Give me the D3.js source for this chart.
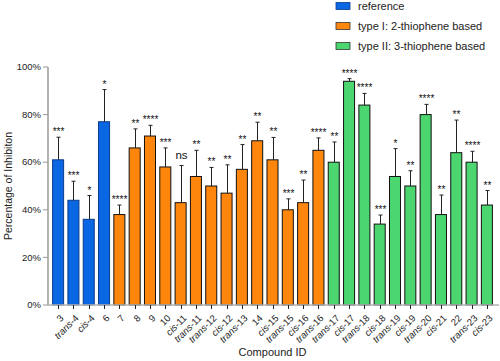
<!DOCTYPE html>
<html>
<head>
<meta charset="utf-8">
<script src="https://cdn.jsdelivr.net/npm/d3@7"></script>
<style>
  body { margin: 0; background: #fff; }
  svg { font-family: "Liberation Sans", Arial, sans-serif; display: block; }
</style>
</head>
<body>
<svg id="chart" width="500" height="361"></svg>
<script>
// compound ids, split into prefix (italic) and number
const compounds = ["3", "trans-4", "cis-4", "6", "7", "8", "9", "10", "cis-11", "trans-11",
  "trans-12", "cis-12", "trans-13", "14", "cis-15", "trans-15", "cis-16", "trans-16",
  "trans-17", "cis-17", "trans-18", "cis-18", "trans-19", "cis-19", "trans-20", "cis-21",
  "22", "trans-23", "cis-23"];
const groups = ["ref", "ref", "ref", "ref",
  "t1", "t1", "t1", "t1", "t1", "t1", "t1", "t1", "t1", "t1", "t1", "t1", "t1", "t1",
  "t2", "t2", "t2", "t2", "t2", "t2", "t2", "t2", "t2", "t2", "t2"];
const inhibition = [61, 44, 36, 77, 38, 66, 71, 58, 43, 54, 50, 47, 57, 69, 61, 40, 43, 65,
  60, 94, 84, 34, 54, 50, 80, 38, 64, 60, 42];
const errorTop = [70.5, 52, 46, 90.5, 42, 74, 75.5, 66, 58.6, 65, 57.8, 58.9, 67.4, 76.8, 70.4, 44.6, 52.5, 70.2,
  68.5, 95.1, 88.9, 37.8, 65.7, 56.4, 84.3, 46.2, 77.7, 64.6, 48.1];
const significance = ["***", "***", "*", "*", "****", "**", "****", "***", "ns", "**",
  "**", "**", "**", "**", "**", "***", "**", "****",
  "**", "****", "****", "***", "*", "**", "****", "**", "**", "****", "**"];
const yTicks = [0, 20, 40, 60, 80, 100];
const legendKeys = ["ref", "t1", "t2"];
const legendLabels = ["reference", "type I: 2-thiophene based", "type II: 3-thiophene based"];

const colors = { ref: "#0a67e3", t1: "#ff860d", t2: "#4cd670" };

const data = compounds.map((c, i) => ({
  id: c, group: groups[i], v: inhibition[i], err: errorTop[i], sig: significance[i]
}));

const svg = d3.select("#chart");
const m = { left: 48, right: 497, top: 67, bottom: 305 };

const x = d3.scaleBand()
  .domain(compounds)
  .range([m.left, m.right])
  .paddingInner(0.28)
  .paddingOuter(0.3);
const y = d3.scaleLinear().domain([0, 100]).range([m.bottom, m.top]);

// y axis
svg.append("line")
  .attr("x1", m.left).attr("x2", m.left)
  .attr("y1", y(100)).attr("y2", m.bottom)
  .attr("stroke", "#b3b3b3").attr("stroke-width", 2);

const yt = svg.selectAll(".ytick").data(yTicks).join("g")
  .attr("transform", (d) => `translate(0,${y(d)})`);
yt.append("line")
  .attr("x1", m.left - 5).attr("x2", m.left)
  .attr("stroke", "#999").attr("stroke-width", 1);
yt.append("text")
  .attr("x", m.left - 7).attr("dy", "0.34em")
  .attr("text-anchor", "end")
  .attr("font-size", 9.5)
  .attr("fill", "#222")
  .text((d) => d + "%");

// bars
svg.selectAll(".bar").data(data).join("rect")
  .attr("x", (d) => x(d.id))
  .attr("y", (d) => y(d.v))
  .attr("width", x.bandwidth())
  .attr("height", (d) => m.bottom - y(d.v))
  .attr("fill", (d) => colors[d.group])
  .attr("stroke", (d) => (d.group === "ref" ? "#0b3a8a" : "#111"))
  .attr("stroke-width", 1);

// error bars
const eb = svg.selectAll(".err").data(data).join("g")
  .attr("transform", (d) => `translate(${Math.round(x(d.id) + x.bandwidth() / 2) + 0.5},0)`);
eb.append("line")
  .attr("y1", (d) => y(d.v)).attr("y2", (d) => y(d.err))
  .attr("stroke", "#222").attr("stroke-width", 1);
eb.append("line")
  .attr("x1", -2).attr("x2", 2)
  .attr("y1", (d) => y(d.err)).attr("y2", (d) => y(d.err))
  .attr("stroke", "#222").attr("stroke-width", 1);

// significance marks
eb.append("text")
  .attr("y", (d) => y(d.err) - (d.sig === "ns" ? 7 : 2))
  .attr("text-anchor", "middle")
  .attr("font-size", (d) => (d.sig === "ns" ? 11.5 : 10))
  .attr("fill", "#111")
  .text((d) => d.sig);

// x axis
svg.append("line")
  .attr("x1", m.left - 1).attr("x2", m.right + 2)
  .attr("y1", m.bottom).attr("y2", m.bottom)
  .attr("stroke", "#b3b3b3").attr("stroke-width", 1.5);

const xt = svg.selectAll(".xtick").data(compounds).join("g")
  .attr("transform", (d) => `translate(${Math.round(x(d) + x.bandwidth() / 2) + 0.5},${m.bottom})`);
xt.append("line").attr("y1", 0).attr("y2", 4).attr("stroke", "#222");
const xl = xt.append("text")
  .attr("transform", "translate(1,9) rotate(-45)")
  .attr("text-anchor", "end")
  .attr("dy", "0.7em")
  .attr("font-size", 9.5)
  .attr("fill", "#222");
xl.each(function (d) {
  const t = d3.select(this);
  const parts = d.match(/^(trans|cis)(-.*)$/);
  if (parts) {
    t.append("tspan").attr("font-style", "italic").text(parts[1]);
    t.append("tspan").text(parts[2]);
  } else {
    t.text(d);
  }
});

// axis titles
svg.append("text")
  .attr("x", (m.left + m.right) / 2).attr("y", 356)
  .attr("text-anchor", "middle")
  .attr("font-size", 11)
  .attr("fill", "#222")
  .text("Compound ID");

svg.append("text")
  .attr("transform", `translate(12,${(m.top + m.bottom) / 2}) rotate(-90)`)
  .attr("text-anchor", "middle")
  .attr("font-size", 10.5)
  .attr("fill", "#222")
  .text("Percentage of Inhibiton");

// legend
const lg = svg.selectAll(".legend").data(legendKeys).join("g")
  .attr("transform", (d, i) => `translate(336,${6 + i * 20})`);
lg.append("rect")
  .attr("x", 0).attr("y", -3.5)
  .attr("width", 14).attr("height", 7)
  .attr("fill", (d) => colors[d])
  .attr("stroke", (d) => (d === "ref" ? "#0b3a8a" : "#333"))
  .attr("stroke-width", 0.8);
lg.append("text")
  .attr("x", 22).attr("dy", "0.35em")
  .attr("font-size", 11)
  .attr("fill", "#222")
  .text((d, i) => legendLabels[i]);
</script>
</body>
</html>
